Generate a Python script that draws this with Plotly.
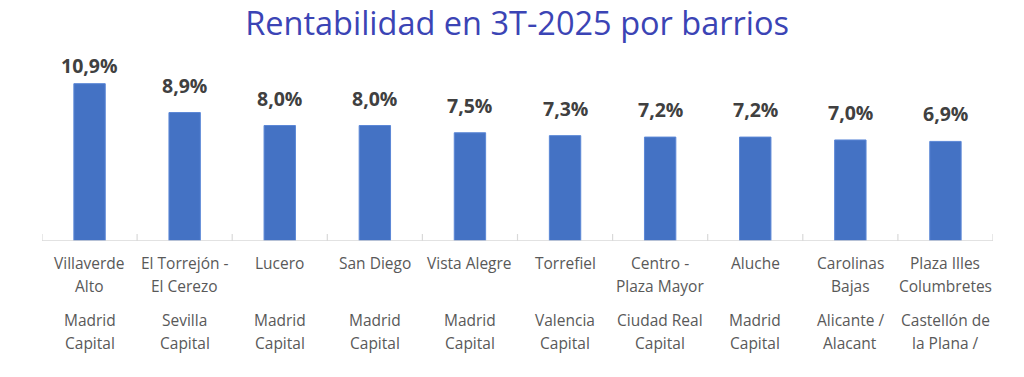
import plotly.graph_objects as go

# ---- data ----
barrios = ["Villaverde<br>Alto", "El Torrejón -<br>El Cerezo", "Lucero", "San Diego", "Vista Alegre",
           "Torrefiel", "Centro -<br>Plaza Mayor", "Aluche", "Carolinas<br>Bajas", "Plaza Illes<br>Columbretes"]
ciudades = ["Madrid<br>Capital", "Sevilla<br>Capital", "Madrid<br>Capital", "Madrid<br>Capital", "Madrid<br>Capital",
            "Valencia<br>Capital", "Ciudad Real<br>Capital", "Madrid<br>Capital", "Alicante /<br>Alacant",
            "Castellón de<br>la Plana /"]
rentabilidad = [10.9, 8.9, 8.0, 8.0, 7.5, 7.3, 7.2, 7.2, 7.0, 6.9]
etiquetas = ["10,9%", "8,9%", "8,0%", "8,0%", "7,5%", "7,3%", "7,2%", "7,2%", "7,0%", "6,9%"]

# ---- style ----
BAR = "#4472C4"
GRID = "#D9D9D9"
LABEL = "#595959"
FONT = "Open Sans"
n = len(barrios)
W, H = 1024, 377
Y_MAX = 12.54
PLOT_TOP, PLOT_BOTTOM = 60, 241
px_per_unit = (PLOT_BOTTOM - PLOT_TOP) / Y_MAX

fig = go.Figure()
fig.add_trace(go.Bar(
    x=list(range(n)), y=rentabilidad,
    marker=dict(color=BAR, line=dict(color="#5B87D6", width=1)),
    width=0.33, hoverinfo="skip",
))

annotations = []
# data labels
for i, (v, t) in enumerate(zip(rentabilidad, etiquetas)):
    bar_top_px = PLOT_BOTTOM - v * px_per_unit
    shift = max(2, min(12, bar_top_px - (PLOT_TOP + 21)))
    annotations.append(dict(x=i, y=v, xref="x", yref="y", text=f"<b>{t}</b>", showarrow=False,
                            yanchor="bottom", yshift=shift,
                            font=dict(family=FONT, size=19.5, color="#404040")))

# category labels (one annotation per line)
first_rows = [-22, -45]
second_rows = [-79, -102]
for i in range(n):
    for line, dy in zip(barrios[i].split("<br>"), first_rows):
        annotations.append(dict(x=i, y=0, xref="x", yref="y", text=line, showarrow=False,
                                yanchor="middle", yshift=dy,
                                font=dict(family=FONT, size=15.5, color=LABEL)))
    for line, dy in zip(ciudades[i].split("<br>"), second_rows):
        annotations.append(dict(x=i, y=0, xref="x", yref="y", text=line, showarrow=False,
                                yanchor="middle", yshift=dy,
                                font=dict(family=FONT, size=15.5, color=LABEL)))

# separators at category boundaries
shapes = []
for k in range(n + 1):
    shapes.append(dict(type="line", xref="x", yref="y", x0=k - 0.5, x1=k - 0.5,
                       ysizemode="pixel", yanchor=0, y0=7, y1=-113,
                       line=dict(color=GRID, width=1.2)))
shapes.append(dict(type="line", xref="x", yref="y", x0=-0.5, x1=n - 0.5, y0=0, y1=0,
                   line=dict(color=GRID, width=1.5)))

fig.update_layout(
    width=W, height=H,
    margin=dict(l=42, r=W - 993, t=PLOT_TOP, b=H - PLOT_BOTTOM),
    paper_bgcolor="white", plot_bgcolor="white",
    title=dict(text="Rentabilidad en 3T-2025 por barrios", x=0.505, xanchor="center",
               y=1 - 24 / H, yanchor="middle",
               font=dict(family=FONT, size=32.5, color="#3B44B5")),
    showlegend=False,
    xaxis=dict(range=[-0.5, n - 0.5], showticklabels=False, showgrid=False, zeroline=False,
               showline=False, ticks=""),
    yaxis=dict(range=[0, Y_MAX], visible=False),
    annotations=annotations, shapes=shapes,
)

fig.write_html("out.html", config={"displayModeBar": False},
               post_script="document.body.style.margin='0';document.body.style.overflow='hidden';")
